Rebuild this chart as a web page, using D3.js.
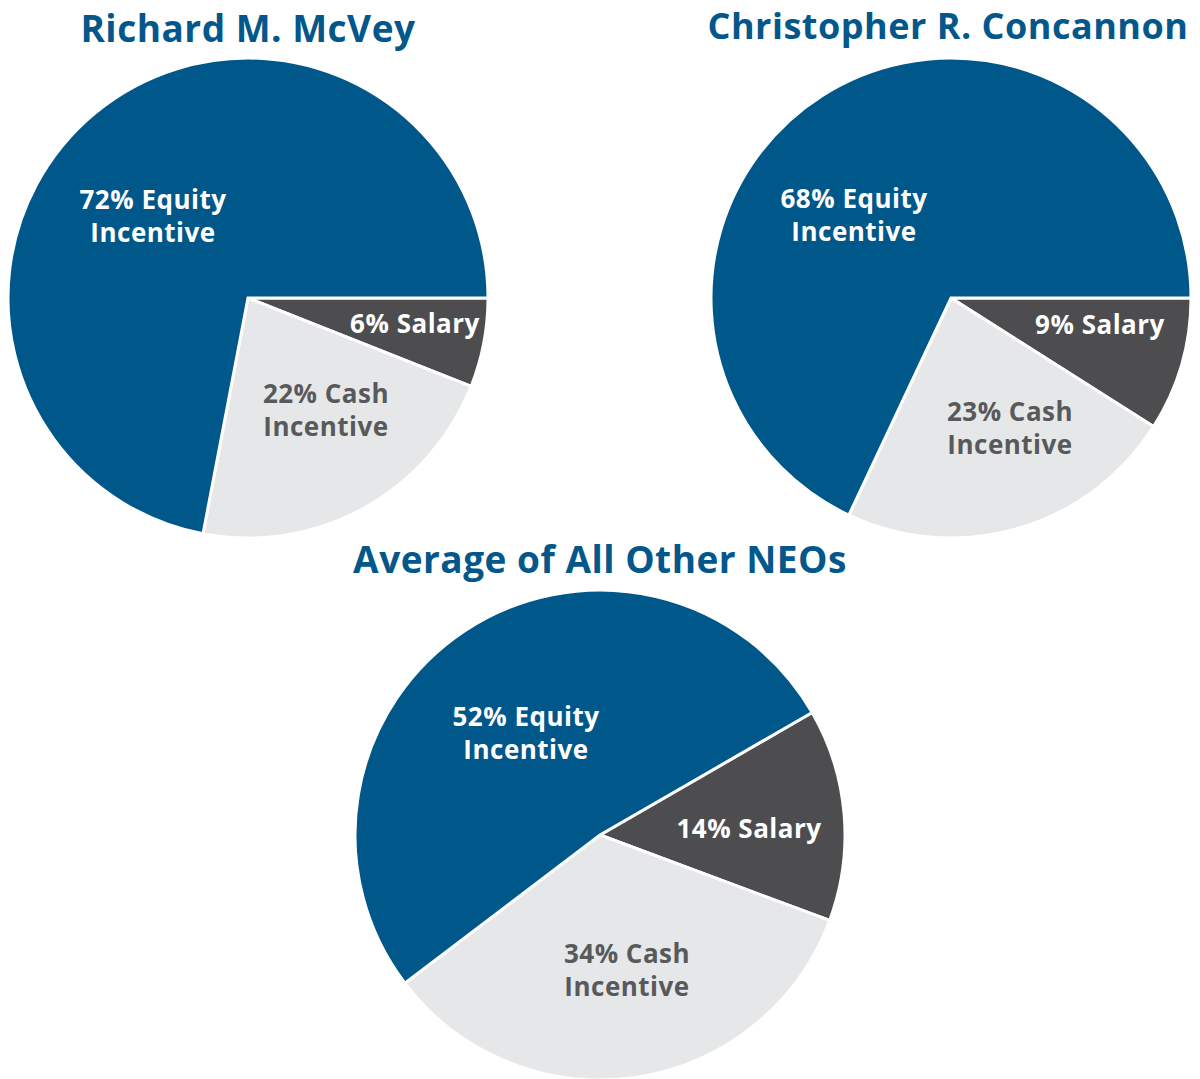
<!DOCTYPE html>
<html>
<head>
<meta charset="utf-8">
<script src="https://cdn.jsdelivr.net/npm/d3@7"></script>
<style>
  html, body { margin: 0; padding: 0; background: #ffffff; }
  svg { display: block; }
  text { font-family: "Open Sans", "Noto Sans", sans-serif; font-weight: 700; }
</style>
</head>
<body>
<svg id="chart" width="1200" height="1079"></svg>
<script>
// ---- data ----
const categories = ["Salary", "Cash Incentive", "Equity Incentive"];
const labelLines = [["{v}% Salary"], ["{v}% Cash", "Incentive"], ["{v}% Equity", "Incentive"]];
const titles = ["Richard M. McVey", "Christopher R. Concannon", "Average of All Other NEOs"];
const mcveyValues = [6, 22, 72];
const concannonValues = [9, 23, 68];
const otherNeoValues = [14, 34, 52];

// ---- layout / style ----
const colors = ["#4d4d4f", "#e6e7e8", "#00578a"];
const textColors = ["#ffffff", "#58595b", "#ffffff"];

const charts = [
  { title: titles[0], values: mcveyValues, cx: 248, cy: 298, r: 240, start: 90, titleX: 248, titleY: 42, titleSize: 37,
    labelOffsets: [[167, 26], [78, 112], [-95, -82]] },
  { title: titles[1], values: concannonValues, cx: 951, cy: 298, r: 240, start: 90, titleX: 948, titleY: 39, titleSize: 36,
    labelOffsets: [[149, 27], [59, 130], [-97, -83]] },
  { title: titles[2], values: otherNeoValues, cx: 600, cy: 835, r: 245, start: 60, titleX: 600, titleY: 573, titleSize: 37,
    labelOffsets: [[149, -6], [27, 135], [-74, -102]] }
];

const svg = d3.select("#chart");

charts.forEach(c => {
  const data = c.values.map((v, i) => ({ cat: categories[i], value: v, idx: i }));
  const startRad = c.start * Math.PI / 180;
  const pie = d3.pie().value(d => d.value).sort(null)
    .startAngle(startRad).endAngle(startRad + 2 * Math.PI);
  const arcs = pie(data);
  const arc = d3.arc().innerRadius(0).outerRadius(c.r);

  const g = svg.append("g").attr("transform", `translate(${c.cx},${c.cy})`);
  g.selectAll("path").data(arcs).enter().append("path")
    .attr("d", arc)
    .attr("fill", d => colors[d.data.idx])
    .attr("stroke", "#ffffff")
    .attr("stroke-width", 3)
    .attr("stroke-linejoin", "miter");

  arcs.forEach(a => {
    const i = a.data.idx;
    const [lx, ly] = c.labelOffsets[i];
    const lines = labelLines[i].map(s => s.replace("{v}", a.data.value));
    const lh = 33;
    const t = g.append("text")
      .attr("text-anchor", "middle")
      .attr("fill", textColors[i])
      .attr("font-size", 26)
      .attr("letter-spacing", 0.5);
    lines.forEach((s, k) => {
      t.append("tspan")
        .attr("x", lx)
        .attr("y", ly + (k - (lines.length - 1) / 2) * lh)
        .attr("dy", "0.35em")
        .text(s);
    });
  });

  svg.append("text")
    .attr("x", c.titleX)
    .attr("y", c.titleY)
    .attr("text-anchor", "middle")
    .attr("fill", "#03578a")
    .attr("font-size", c.titleSize)
    .attr("letter-spacing", 0.5)
    .text(c.title);
});
</script>
</body>
</html>
